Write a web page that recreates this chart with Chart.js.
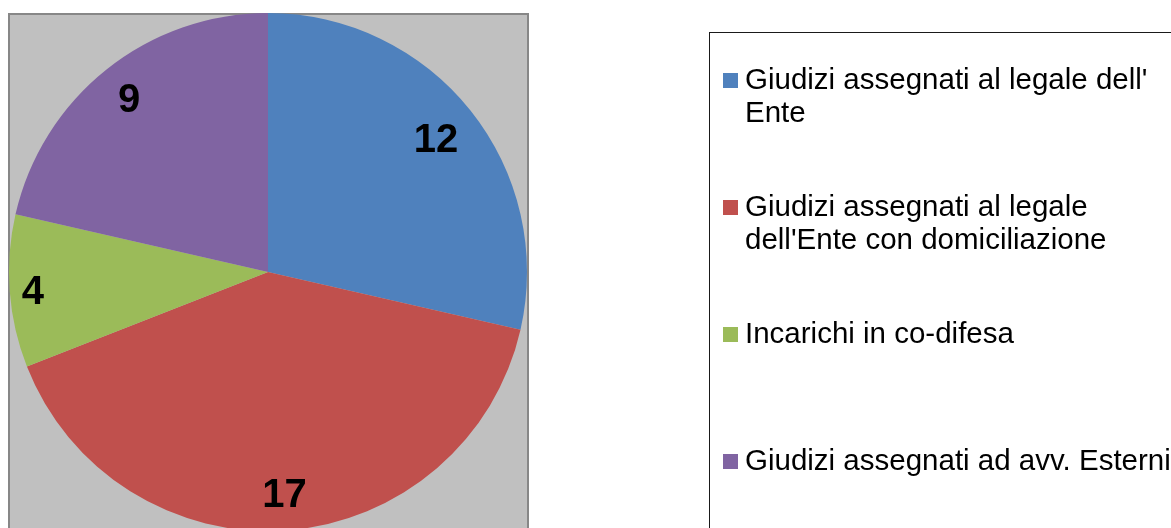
<!DOCTYPE html>
<html>
<head>
<meta charset="utf-8">
<script src="https://cdn.jsdelivr.net/npm/chart.js@4"></script>
<style>
  html, body { margin: 0; padding: 0; background: #ffffff; overflow: hidden; }
  #wrap { position: relative; width: 1171px; height: 545px; }
</style>
</head>
<body>
<div id="wrap"><canvas id="c"></canvas></div>
<script>
// ---- data ----
const categories = [
  ["Giudizi assegnati al legale dell'", "Ente"],
  ["Giudizi assegnati al legale", "dell'Ente con domiciliazione"],
  ["Incarichi in co-difesa"],
  ["Giudizi assegnati ad avv. Esterni"]
];
const values = [12, 17, 4, 9];
const colors = ["#4F81BD", "#C0504D", "#9BBB59", "#8064A2"];

const FONT = "'Liberation Sans', Arial, sans-serif";

const plotBg = {
  id: 'plotBg',
  beforeDraw(chart) {
    const ctx = chart.ctx;
    ctx.save();
    ctx.fillStyle = '#C0C0C0';
    ctx.fillRect(9, 14, 519, 560);
    ctx.strokeStyle = '#878787';
    ctx.lineWidth = 2;
    ctx.strokeRect(9, 14, 519, 560);
    ctx.restore();
  }
};

const sliceLabels = {
  id: 'sliceLabels',
  afterDatasetsDraw(chart, args, opts) {
    const ctx = chart.ctx;
    const meta = chart.getDatasetMeta(0);
    ctx.save();
    ctx.font = 'bold 40px ' + FONT;
    ctx.fillStyle = '#000';
    ctx.textAlign = 'center';
    ctx.textBaseline = 'alphabetic';
    meta.data.forEach((arc, i) => {
      const p = arc.getProps(['x', 'y', 'startAngle', 'endAngle', 'outerRadius'], true);
      const mid = (p.startAngle + p.endAngle) / 2;
      const r = p.outerRadius * opts.radial[i];
      const cx = p.x + Math.cos(mid) * r;
      const cy = p.y + Math.sin(mid) * r;
      ctx.fillText(String(chart.data.datasets[0].data[i]), cx, cy + 14);
    });
    ctx.restore();
  }
};

const sideLegend = {
  id: 'sideLegend',
  afterDraw(chart) {
    const ctx = chart.ctx;
    ctx.save();
    ctx.strokeStyle = '#1a1a1a';
    ctx.lineWidth = 1;
    ctx.strokeRect(709.5, 32.5, 600, 600);
    ctx.font = '29.5px ' + FONT;
    ctx.fillStyle = '#000';
    ctx.textAlign = 'left';
    ctx.textBaseline = 'alphabetic';
    const labels = chart.data.labels;
    const bg = chart.data.datasets[0].backgroundColor;
    const firstBase = 89, step = 127, lineH = 32.5;
    labels.forEach((lines, i) => {
      const base = firstBase + step * i;
      ctx.fillStyle = bg[i];
      ctx.fillRect(723, base - 16, 15, 15);
      ctx.fillStyle = '#000';
      lines.forEach((t, j) => ctx.fillText(t, 745, base + j * lineH));
    });
    ctx.restore();
  }
};

new Chart(document.getElementById('c'), {
  type: 'pie',
  data: {
    labels: categories,
    datasets: [{
      data: values,
      backgroundColor: colors,
      borderWidth: 0,
      hoverOffset: 0
    }]
  },
  options: {
    responsive: true,
    maintainAspectRatio: false,
    animation: false,
    layout: { padding: { left: 9, top: 13, right: 644, bottom: 14 } },
    plugins: {
      legend: { display: false },
      tooltip: { enabled: false },
      sliceLabels: { radial: [0.83, 0.855, 0.91, 0.86] }
    }
  },
  plugins: [plotBg, sliceLabels, sideLegend]
});
</script>
</body>
</html>
